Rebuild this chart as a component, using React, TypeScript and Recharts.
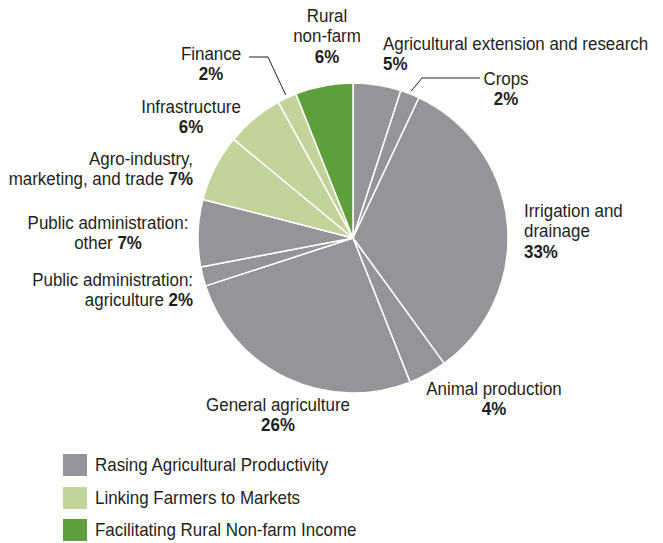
import { Pie, PieChart, Cell } from "recharts";

const categories = [
  "Agricultural extension and research",
  "Crops",
  "Irrigation and drainage",
  "Animal production",
  "General agriculture",
  "Public administration: agriculture",
  "Public administration: other",
  "Agro-industry, marketing, and trade",
  "Infrastructure",
  "Finance",
  "Rural non-farm",
];
const shares = [5, 2, 33, 4, 26, 2, 7, 7, 6, 2, 6];
const groupOf = [0, 0, 0, 0, 0, 0, 0, 1, 1, 1, 2];
const groupNames = [
  "Rasing Agricultural Productivity",
  "Linking Farmers to Markets",
  "Facilitating Rural Non-farm Income",
];
const labelLines = [
  ["Agricultural extension and research"],
  ["Crops"],
  ["Irrigation and", "drainage"],
  ["Animal production"],
  ["General agriculture"],
  ["Public administration:", "agriculture"],
  ["Public administration:", "other"],
  ["Agro-industry,", "marketing, and trade"],
  ["Infrastructure"],
  ["Finance"],
  ["Rural", "non-farm"],
];
const pctInline = [false, false, false, false, false, true, true, true, false, false, false];

const groupColors = ["#939598", "#c3d49a", "#5c9f3b"];
const TEXT = "#231f20";
const FONT = "'Liberation Sans', Arial, sans-serif";
const FS = 18.5;
const SX = 0.915; // squeeze to mimic the condensed face
const LH = 20.5;

// where each label sits (first-line baseline) and optional leader elbow/end
const labelLayout: {
  x: number;
  y: number;
  anchor: "start" | "middle" | "end";
  leader?: [number, number, number, number];
}[] = [
  { x: 383, y: 50, anchor: "start" },
  { x: 506, y: 85, anchor: "middle", leader: [422, 78, 480, 78] },
  { x: 524, y: 217, anchor: "start" },
  { x: 494, y: 395, anchor: "middle" },
  { x: 278, y: 411, anchor: "middle" },
  { x: 193, y: 286, anchor: "end" },
  { x: 108, y: 229, anchor: "middle" },
  { x: 193, y: 165, anchor: "end" },
  { x: 191, y: 113, anchor: "middle" },
  { x: 211, y: 60, anchor: "middle", leader: [268, 57, 249, 57] },
  { x: 327, y: 22, anchor: "middle" },
];

const data = categories.map((name, i) => ({ name, value: shares[i], group: groupOf[i] }));

const RAD = Math.PI / 180;

function renderLabel(props: any) {
  const { cx, cy, midAngle, outerRadius, index, value } = props;
  const lay = labelLayout[index];
  const lines = labelLines[index];
  const pct = `${value}%`;
  let leader = null;
  if (lay.leader) {
    const r = outerRadius + 3;
    const ex = cx + r * Math.cos(-midAngle * RAD);
    const ey = cy + r * Math.sin(-midAngle * RAD);
    const [mx, my, tx, ty] = lay.leader;
    leader = (
      <polyline
        points={`${ex},${ey} ${mx},${my} ${tx},${ty}`}
        fill="none"
        stroke={TEXT}
        strokeWidth={1}
      />
    );
  }
  return (
    <g key={`lbl-${index}`}>
      {leader}
      <g transform={`translate(${lay.x} ${lay.y}) scale(${SX} 1)`}>
        <text x={0} y={0} textAnchor={lay.anchor} fill={TEXT} fontFamily={FONT} fontSize={FS}>
          {lines.map((ln, j) => (
            <tspan key={j} x={0} dy={j === 0 ? 0 : LH}>
              {ln}
              {pctInline[index] && j === lines.length - 1 ? (
                <tspan fontWeight="bold"> {pct}</tspan>
              ) : null}
            </tspan>
          ))}
          {!pctInline[index] ? (
            <tspan x={0} dy={LH} fontWeight="bold">
              {pct}
            </tspan>
          ) : null}
        </text>
      </g>
    </g>
  );
}

export default function App() {
  return (
    <div style={{ position: "absolute", left: 0, top: 0, width: 663, height: 543, background: "#fff" }}>
      <PieChart width={663} height={543} margin={{ top: 0, right: 0, bottom: 0, left: 0 }}>
        <Pie
          data={data}
          dataKey="value"
          nameKey="name"
          cx={353}
          cy={238}
          outerRadius={155}
          startAngle={90}
          endAngle={-270}
          stroke="#ffffff"
          strokeWidth={1.5}
          label={renderLabel}
          labelLine={false}
          isAnimationActive={false}
        >
          {data.map((d, i) => (
            <Cell key={i} fill={groupColors[d.group]} />
          ))}
        </Pie>
      </PieChart>
      {groupNames.map((g, i) => (
        <div
          key={g}
          style={{
            position: "absolute",
            left: 63,
            top: 454 + i * 32.5,
            height: 22,
            display: "flex",
            alignItems: "center",
            fontFamily: FONT,
            fontSize: FS,
            color: TEXT,
            whiteSpace: "nowrap",
          }}
        >
          <span style={{ display: "inline-block", width: 24, height: 22, background: groupColors[i], marginRight: 8 }} />
          <span style={{ display: "inline-block", transform: `scaleX(${SX})`, transformOrigin: "left center" }}>{g}</span>
        </div>
      ))}
    </div>
  );
}
